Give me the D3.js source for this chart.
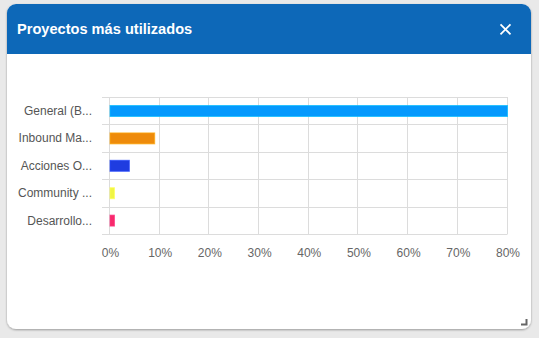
<!DOCTYPE html>
<html>
<head>
<meta charset="utf-8">
<script src="https://cdn.jsdelivr.net/npm/d3@7/dist/d3.min.js"></script>
<style>
  html, body { margin: 0; padding: 0; background: #e9e9e9; }
  svg { display: block; }
</style>
</head>
<body>
<svg id="chart" width="539" height="338"></svg>
<script>
// Project usage shares (percent of total)
const categories = ["General (B...", "Inbound Ma...", "Acciones O...", "Community ...", "Desarrollo..."];
const values = [80.4, 9.0, 3.9, 0.9, 0.9];
const barColors = ["#0599fd", "#ee8b0b", "#1f3ce0", "#f0f545", "#f72a6b"];
const tickValues = [0, 10, 20, 30, 40, 50, 60, 70, 80];
const title = "Proyectos más utilizados";

const svg = d3.select("#chart");

// Card panel
const card = { x: 7, y: 4, w: 524, h: 325, r: 9, header: 50 };
const defs = svg.append("defs");
const sh = defs.append("filter").attr("id", "shadow").attr("x", "-5%").attr("y", "-5%").attr("width", "110%").attr("height", "115%");
sh.append("feDropShadow").attr("dx", 0).attr("dy", 1).attr("stdDeviation", 1.2).attr("flood-color", "#000").attr("flood-opacity", 0.35);
defs.append("clipPath").attr("id", "cardClip")
  .append("rect").attr("x", card.x).attr("y", card.y).attr("width", card.w).attr("height", card.h).attr("rx", card.r);

svg.append("rect")
  .attr("x", card.x).attr("y", card.y).attr("width", card.w).attr("height", card.h)
  .attr("rx", card.r).attr("fill", "#fff").attr("filter", "url(#shadow)");

svg.append("rect")
  .attr("clip-path", "url(#cardClip)")
  .attr("x", card.x).attr("y", card.y).attr("width", card.w).attr("height", card.header)
  .attr("fill", "#0d68b8");

svg.append("text")
  .attr("x", 17).attr("y", 34.3)
  .attr("fill", "#fff")
  .attr("font-family", "'Liberation Sans', Arial, sans-serif")
  .attr("font-weight", "bold")
  .attr("font-size", 14.6)
  .text(title);

// Close icon
const cx = 505.5, cy = 29.3, cs = 5;
svg.append("path")
  .attr("d", `M${cx - cs},${cy - cs}L${cx + cs},${cy + cs}M${cx + cs},${cy - cs}L${cx - cs},${cy + cs}`)
  .attr("stroke", "#fff").attr("stroke-width", 1.8).attr("fill", "none");

// Resize grip
svg.append("path")
  .attr("d", "M521,324.5H526.5V319")
  .attr("stroke", "#666").attr("stroke-width", 2).attr("fill", "none");

// Chart area
const plot = { left: 110, right: 507.5, top: 97, bottom: 234 };
const x = d3.scaleLinear().domain([0, 80]).range([plot.left, plot.right]);
const y = d3.scaleBand().domain(categories).range([plot.top, plot.bottom]).paddingInner(0).paddingOuter(0);

const g = svg.append("g");
const gridColor = "#dcdcdc";
const labelFont = "'Liberation Sans', Arial, sans-serif";

// Horizontal grid lines at band boundaries (with left tick extension)
const yEdges = categories.map(c => y(c)).concat([plot.bottom]);
g.selectAll(".hgrid").data(yEdges).enter().append("line")
  .attr("x1", plot.left - 8).attr("x2", plot.right)
  .attr("y1", d => Math.round(d) + 0.5).attr("y2", d => Math.round(d) + 0.5)
  .attr("stroke", gridColor).attr("stroke-width", 1);

// Vertical grid lines
g.selectAll(".vgrid").data(tickValues).enter().append("line")
  .attr("x1", d => Math.round(x(d)) - 0.5).attr("x2", d => Math.round(x(d)) - 0.5)
  .attr("y1", plot.top).attr("y2", plot.bottom)
  .attr("stroke", gridColor).attr("stroke-width", 1);

// X axis tick labels
const xAxis = d3.axisBottom(x).tickValues(tickValues).tickSize(0).tickPadding(0).tickFormat(d => d + "%");
const ax = svg.append("g").attr("transform", `translate(0,${plot.bottom})`).call(xAxis);
ax.select(".domain").remove();
ax.selectAll("text")
  .attr("y", 23).attr("dy", null)
  .attr("fill", "#666")
  .attr("font-family", labelFont)
  .attr("font-size", 12);

// Y axis category labels
const yAxis = d3.axisLeft(y).tickSize(0).tickPadding(0);
const ay = svg.append("g").attr("transform", `translate(92,0)`).call(yAxis);
ay.select(".domain").remove();
ay.selectAll("text")
  .attr("x", 0).attr("dy", "0.35em")
  .attr("fill", "#555")
  .attr("font-family", labelFont)
  .attr("font-size", 12);

// Bars
const barH = 11;
g.selectAll(".bar").data(values).enter().append("rect")
  .attr("x", x(0))
  .attr("y", (d, i) => y(categories[i]) + y.bandwidth() / 2 - barH / 2 + 0.3)
  .attr("width", d => Math.min(x(d), plot.right) - x(0))
  .attr("height", barH)
  .attr("fill", (d, i) => barColors[i])
  .attr("stroke", (d, i) => d3.color(barColors[i]).brighter(0.6))
  .attr("stroke-opacity", 0.7)
  .attr("stroke-width", 1);
</script>
</body>
</html>
